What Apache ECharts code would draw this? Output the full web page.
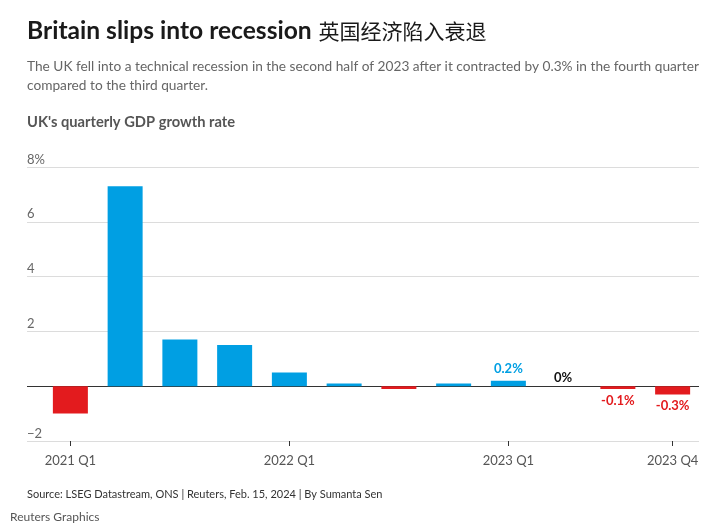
<!DOCTYPE html>
<html>
<head>
<meta charset="utf-8">
<script src="https://cdn.jsdelivr.net/npm/echarts@6/dist/echarts.min.js"></script>
<style>
  html, body { margin: 0; padding: 0; background: #fff; }
  #chart { width: 724px; height: 529px; }
</style>
</head>
<body>
<div id="chart"></div>
<script>
// quarters and GDP growth (% q/q)
var quarters = ['2021 Q1', '2021 Q2', '2021 Q3', '2021 Q4',
                '2022 Q1', '2022 Q2', '2022 Q3', '2022 Q4',
                '2023 Q1', '2023 Q2', '2023 Q3', '2023 Q4'];
var growth = [-1.0, 7.3, 1.7, 1.5, 0.5, 0.1, -0.1, 0.1, 0.2, 0, -0.1, -0.3];
var labelled = [8, 9, 10, 11];          // bars with a value label
var shownTicks = [0, 4, 8, 11];         // quarters shown on the axis
var yTicks = [-2, 0, 2, 4, 6, 8];

var BLUE = '#009fe3', RED = '#e31b1e';
var FONT = 'Lato, "Noto Sans", sans-serif';

var bars = growth.map(function (v, i) {
  var col = v < 0 ? RED : BLUE;
  var item = { value: v, itemStyle: { color: col } };
  if (labelled.indexOf(i) >= 0) {
    item.label = {
      show: true,
      position: v < 0 ? 'bottom' : 'top',
      distance: v === 0 ? 2 : 5,
      formatter: v + '%',
      color: v === 0 ? '#111' : col,
      fontWeight: 'bold',
      fontSize: 13,
      fontFamily: FONT
    };
  }
  return item;
});

var chart = echarts.init(document.getElementById('chart'));
chart.setOption({
  backgroundColor: '#fff',
  animation: false,
  textStyle: { fontFamily: FONT },
  grid: [
    { left: 27, right: 25, top: 167, bottom: 88 },
    { left: 43, right: 24, top: 167, bottom: 88 }
  ],
  xAxis: [
    { type: 'value', gridIndex: 0, show: false, min: 0, max: 1 },
    {
      type: 'category', gridIndex: 1, data: quarters,
      axisLine: { show: false, onZero: false },
      axisTick: {
        show: true, alignWithLabel: true, length: 5,
        lineStyle: { color: '#333' },
        interval: function (i) { return shownTicks.indexOf(i) >= 0; }
      },
      axisLabel: {
        color: '#555', fontSize: 13, margin: 13, fontFamily: FONT,
        interval: function (i) { return shownTicks.indexOf(i) >= 0; }
      }
    }
  ],
  yAxis: [
    {
      type: 'value', gridIndex: 0, min: -2, max: 8, interval: 2,
      axisLine: { show: false }, axisTick: { show: false },
      axisLabel: {
        inside: true, verticalAlign: 'bottom', margin: 0,
        padding: [0, 0, 1, 0],
        color: '#666', fontSize: 13, fontFamily: FONT,
        formatter: function (v) {
          if (v === 8) return '8%';
          return v < 0 ? '\u2212' + Math.abs(v) : (v === 0 ? '' : String(v));
        }
      },
      splitLine: {
        show: true,
        lineStyle: {
          width: 1,
          color: yTicks.map(function (t) { return t === 0 ? '#333' : '#dcdcdc'; })
        }
      }
    },
    { type: 'value', gridIndex: 1, min: -2, max: 8, interval: 2, show: false }
  ],
  series: [
    {
      type: 'bar', xAxisIndex: 1, yAxisIndex: 1,
      barWidth: 35,
      data: bars
    }
  ],
  graphic: [
    {
      type: 'text', left: 27, top: 19,
      style: {
        text: '{b|Britain slips into recession}  {c|英国经济陷入衰退}',
        rich: {
          b: { fontSize: 24.6, fontWeight: 'bold', fill: '#1a1a1a', fontFamily: FONT },
          c: { fontSize: 21, fill: '#1a1a1a', fontFamily: '"Noto Sans CJK SC", sans-serif' }
        }
      }
    },
    {
      type: 'text', left: 27, top: 57,
      style: {
        text: 'The UK fell into a technical recession in the second half of 2023 after it contracted by 0.3% in the fourth quarter\ncompared to the third quarter.',
        fontSize: 13.7, lineHeight: 19, fill: '#666', fontFamily: FONT
      }
    },
    {
      type: 'text', left: 27, top: 115,
      style: { text: "UK's quarterly GDP growth rate", fontSize: 14.7, fontWeight: 'bold', fill: '#555', fontFamily: FONT }
    },
    {
      type: 'text', left: 27, top: 489,
      style: { text: 'Source: LSEG Datastream, ONS | Reuters, Feb. 15, 2024 | By Sumanta Sen', fontSize: 11, fill: '#333', fontFamily: FONT }
    },
    {
      type: 'text', left: 10, top: 511,
      style: { text: 'Reuters Graphics', fontSize: 12, fill: '#555', fontFamily: FONT }
    }
  ]
});
</script>
</body>
</html>
